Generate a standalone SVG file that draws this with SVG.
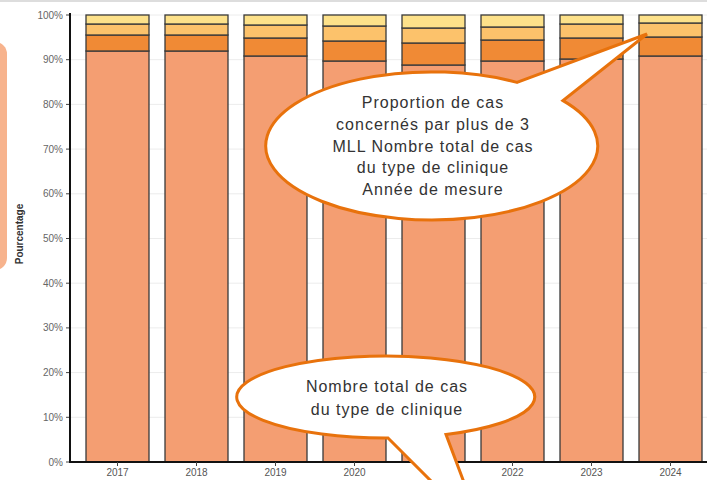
<svg xmlns="http://www.w3.org/2000/svg" width="707" height="480" viewBox="0 0 707 480">
<defs>
<style>
.grid{stroke:#ececec;stroke-width:1}
.axis{stroke:#111;stroke-width:2;fill:none}
.tick{stroke:#444;stroke-width:1}
.ylab{font-family:"Liberation Sans",Arial,sans-serif;font-size:10px;fill:#666;text-anchor:end}
.xlab{font-family:"Liberation Sans",Arial,sans-serif;font-size:10px;fill:#555;text-anchor:middle}
.seg{stroke:#3a3a3a;stroke-width:1.3}
.base{fill:#F49E72}
.org{fill:#F08A35}
.lor{fill:#FCC26B}
.yel{fill:#FDE18A}
.bubble{fill:#fff;stroke:#E8720C;stroke-width:3;stroke-linejoin:miter}
.btxt{font-family:"Liberation Sans",Arial,sans-serif;font-size:16px;fill:#333;text-anchor:middle;letter-spacing:1px}
</style>
</defs>
<rect width="707" height="480" fill="#fff"/>
<line x1="0" y1="1" x2="707" y2="1" stroke="#ddd" stroke-width="2"/>
<rect id="legend-panel" x="-30" y="42" width="37" height="228" rx="12" fill="#F7B38D"/>
<g id="gridlines">
<line class="grid" x1="70" y1="417.3" x2="707" y2="417.3"/>
<line class="grid" x1="70" y1="372.6" x2="707" y2="372.6"/>
<line class="grid" x1="70" y1="327.9" x2="707" y2="327.9"/>
<line class="grid" x1="70" y1="283.2" x2="707" y2="283.2"/>
<line class="grid" x1="70" y1="238.5" x2="707" y2="238.5"/>
<line class="grid" x1="70" y1="193.8" x2="707" y2="193.8"/>
<line class="grid" x1="70" y1="149.1" x2="707" y2="149.1"/>
<line class="grid" x1="70" y1="104.4" x2="707" y2="104.4"/>
<line class="grid" x1="70" y1="59.7" x2="707" y2="59.7"/>
<line class="grid" x1="70" y1="15" x2="707" y2="15"/>
</g>
<g id="y-axis">
<g class="tick">
<line x1="66" y1="462" x2="70" y2="462"/><line x1="66" y1="417.3" x2="70" y2="417.3"/><line x1="66" y1="372.6" x2="70" y2="372.6"/><line x1="66" y1="327.9" x2="70" y2="327.9"/><line x1="66" y1="283.2" x2="70" y2="283.2"/><line x1="66" y1="238.5" x2="70" y2="238.5"/><line x1="66" y1="193.8" x2="70" y2="193.8"/><line x1="66" y1="149.1" x2="70" y2="149.1"/><line x1="66" y1="104.4" x2="70" y2="104.4"/><line x1="66" y1="59.7" x2="70" y2="59.7"/><line x1="66" y1="15" x2="70" y2="15"/>
</g>
<text class="ylab" x="63" y="465.5">0%</text>
<text class="ylab" x="63" y="420.8">10%</text>
<text class="ylab" x="63" y="376.1">20%</text>
<text class="ylab" x="63" y="331.4">30%</text>
<text class="ylab" x="63" y="286.7">40%</text>
<text class="ylab" x="63" y="242">50%</text>
<text class="ylab" x="63" y="197.3">60%</text>
<text class="ylab" x="63" y="152.6">70%</text>
<text class="ylab" x="63" y="107.9">80%</text>
<text class="ylab" x="63" y="63.2">90%</text>
<text class="ylab" x="63" y="18.5">100%</text>
<text x="23" y="234" transform="rotate(-90 23 234)" font-family="'Liberation Sans',Arial,sans-serif" font-size="10" font-weight="bold" fill="#333" text-anchor="middle">Pourcentage</text>
</g>
<g id="bar-2017">
<rect class="seg base" x="86" y="51" width="63" height="411"/><rect class="seg org" x="86" y="35" width="63" height="16"/><rect class="seg lor" x="86" y="24" width="63" height="11"/><rect class="seg yel" x="86" y="15" width="63" height="9"/>
</g>
<g id="bar-2018">
<rect class="seg base" x="165" y="51" width="63" height="411"/><rect class="seg org" x="165" y="35" width="63" height="16"/><rect class="seg lor" x="165" y="24" width="63" height="11"/><rect class="seg yel" x="165" y="15" width="63" height="9"/>
</g>
<g id="bar-2019">
<rect class="seg base" x="244" y="56" width="63" height="406"/><rect class="seg org" x="244" y="38" width="63" height="18"/><rect class="seg lor" x="244" y="25" width="63" height="13"/><rect class="seg yel" x="244" y="15" width="63" height="10"/>
</g>
<g id="bar-2020">
<rect class="seg base" x="323" y="61" width="63" height="401"/><rect class="seg org" x="323" y="41" width="63" height="20"/><rect class="seg lor" x="323" y="26" width="63" height="15"/><rect class="seg yel" x="323" y="15" width="63" height="11"/>
</g>
<g id="bar-2021">
<rect class="seg base" x="402" y="65" width="63" height="397"/><rect class="seg org" x="402" y="43" width="63" height="22"/><rect class="seg lor" x="402" y="28" width="63" height="15"/><rect class="seg yel" x="402" y="15" width="63" height="13"/>
</g>
<g id="bar-2022">
<rect class="seg base" x="481" y="61" width="63" height="401"/><rect class="seg org" x="481" y="40" width="63" height="21"/><rect class="seg lor" x="481" y="27" width="63" height="13"/><rect class="seg yel" x="481" y="15" width="63" height="12"/>
</g>
<g id="bar-2023">
<rect class="seg base" x="560" y="59" width="63" height="403"/><rect class="seg org" x="560" y="38" width="63" height="21"/><rect class="seg lor" x="560" y="24" width="63" height="14"/><rect class="seg yel" x="560" y="15" width="63" height="9"/>
</g>
<g id="bar-2024">
<rect class="seg base" x="639" y="56" width="63" height="406"/><rect class="seg org" x="639" y="37" width="63" height="19"/><rect class="seg lor" x="639" y="23" width="63" height="14"/><rect class="seg yel" x="639" y="15" width="63" height="8"/>
</g>
<g id="axes">
<line class="axis" x1="70" y1="13" x2="70" y2="463"/>
<line class="axis" x1="69" y1="462" x2="707" y2="462"/>
<g class="tick">
<line x1="117.5" y1="462" x2="117.5" y2="466"/><line x1="196.5" y1="462" x2="196.5" y2="466"/><line x1="275.5" y1="462" x2="275.5" y2="466"/><line x1="354.5" y1="462" x2="354.5" y2="466"/><line x1="512.5" y1="462" x2="512.5" y2="466"/><line x1="591.5" y1="462" x2="591.5" y2="466"/><line x1="670.5" y1="462" x2="670.5" y2="466"/>
</g>
<text class="xlab" x="117.5" y="476">2017</text>
<text class="xlab" x="196.5" y="476">2018</text>
<text class="xlab" x="275.5" y="476">2019</text>
<text class="xlab" x="354.5" y="476">2020</text>
<text class="xlab" x="512.5" y="476">2022</text>
<text class="xlab" x="591.5" y="476">2023</text>
<text class="xlab" x="670.5" y="476">2024</text>
</g>
<g id="callout-top">
<path class="bubble" d="M517,82.4 L647,34 L563,100.6 A166,74 0 1 1 517,82.4 Z"/>
<text class="btxt" x="433" y="108">Proportion de cas</text>
<text class="btxt" x="433" y="130">concernés par plus de 3</text>
<text class="btxt" x="433" y="152">MLL Nombre total de cas</text>
<text class="btxt" x="433" y="173">du type de clinique</text>
<text class="btxt" x="433" y="195">Année de mesure</text>
</g>
<g id="callout-bottom">
<path class="bubble" d="M388,438 L483,533 L446,434.5 A149,41 0 1 0 388,438 Z"/>
<text class="btxt" x="387" y="392">Nombre total de cas</text>
<text class="btxt" x="387" y="415">du type de clinique</text>
</g>
</svg>
